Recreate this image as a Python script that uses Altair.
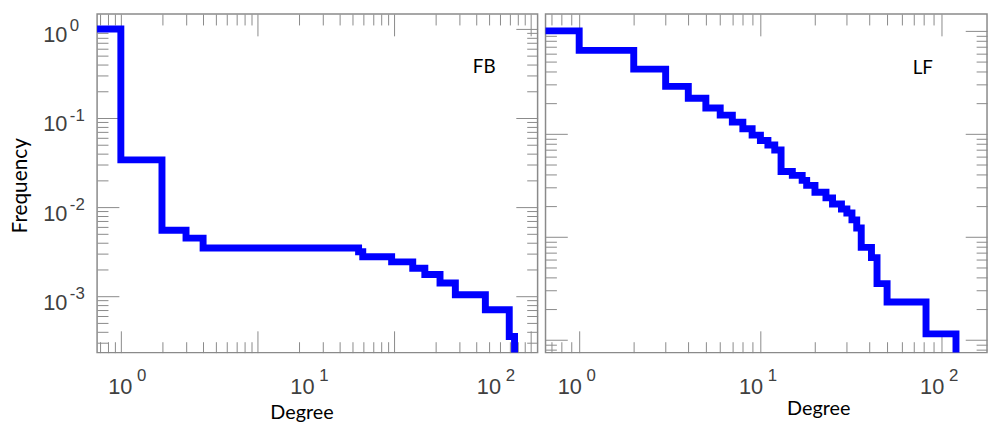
import json
import altair as alt
import pandas as pd

# ---------------- data ----------------
# FB panel: cumulative degree distribution (step-after)
fb_degree = [0.5, 1, 2, 3, 4, 55, 59, 96, 137, 168, 217, 281, 466, 697, 762]
fb_freq = [1.0, 0.0339, 0.00551, 0.00449, 0.00348, 0.00316, 0.00278, 0.00243,
           0.00206, 0.00175, 0.00141, 0.00104, 0.000704, 0.000353, 0.0001]

# LF panel
lf_degree = [0.5, 1, 2, 3, 4, 5, 6, 7, 8, 9, 10, 11, 12, 13, 15, 17, 18, 20,
             23, 25, 28, 30, 32, 34, 36, 41, 44, 50, 82, 120]
lf_freq = [1.0, 0.647, 0.425, 0.289, 0.222, 0.178, 0.152, 0.130, 0.112, 0.0972,
           0.0862, 0.0779, 0.0697, 0.0431, 0.0395, 0.0353, 0.0316, 0.0271,
           0.0239, 0.0208, 0.0186, 0.0170, 0.0146, 0.0122, 0.00789, 0.00628,
           0.00351, 0.00233, 0.00114, 0.0003]

# axis domains
fb_xdomain = [0.67, 1124]
fb_ydomain = [2.33e-4, 1.468]
lf_xdomain = [0.652, 178]
lf_ydomain = [7.5e-4, 1.457]

# tick-label positions / texts (as they appear in the reference)
fb_xlabel_at = [1.16, 25, 580]
lf_xlabel_at = [1, 10, 100]
xlabel_exp = ["0", "1", "2"]
ylabel_at = [1, 0.1, 0.01, 0.001]
ylabel_exp = ["0", "-1", "-2", "-3"]

panel_tags = ["FB", "LF"]
fb_tag_pos = [457, 0.369]
lf_tag_pos = [78.7, 0.44]

# ---------------- style ----------------
W_L, W_R, H = 445, 446, 342
TICK = "#8a8a8a"
LAB = "#404040"
NUM_FONT = "Liberation Sans"
TXT_FONT = "Lato"
MAJ, MIN = 22, 11


def majors(lo, hi):
    return [10.0 ** e for e in range(-6, 6) if lo <= 10.0 ** e <= hi]


def minors(lo, hi):
    out = []
    for e in range(-6, 6):
        for m in range(2, 10):
            v = m * 10.0 ** e
            if lo <= v <= hi:
                out.append(v)
    return out


def tick_axis(orient, values, size):
    return alt.Axis(orient=orient, values=values, tickSize=size, offset=-size,
                    labels=False, domain=False, grid=False, title=None,
                    tickColor=TICK, tickWidth=1)


def lookup_expr(vals, texts):
    return f"{json.dumps(texts)}[indexof({json.dumps(vals)}, datum.value)]"


def panel(deg, freq, xdom, ydom, width, xlab_at, tag, tag_pos,
          title_x, title_y, with_ylabels):
    df = pd.DataFrame({"Degree": deg, "Frequency": freq})
    xs = alt.Scale(type="log", domain=xdom, nice=False)
    ys = alt.Scale(type="log", domain=ydom, nice=False)
    xmaj, xmin = majors(*xdom), minors(*xdom)
    ymaj, ymin = majors(*ydom), minors(*ydom)

    def enc(xa, ya):
        return dict(x=alt.X("Degree:Q", scale=xs, axis=xa),
                    y=alt.Y("Frequency:Q", scale=ys, axis=ya))

    base = alt.Chart(df)
    # invisible carriers for the extra axes: only in-domain points, clipped
    carrier = base.transform_filter(
        alt.FieldRangePredicate(field="Degree", range=xdom)
    ).transform_filter(
        alt.FieldRangePredicate(field="Frequency", range=ydom)
    )

    line = base.mark_line(interpolate="step-after", color="#0000ff",
                          strokeWidth=7, clip=True, strokeJoin="miter").encode(
        **enc(tick_axis("bottom", xmaj, MAJ), tick_axis("left", ymaj, MAJ)))
    inv = dict(opacity=0, clip=True, size=1)
    l2 = carrier.mark_point(**inv).encode(
        **enc(tick_axis("bottom", xmin, MIN), tick_axis("left", ymin, MIN)))
    l3 = carrier.mark_point(**inv).encode(
        **enc(tick_axis("top", xmaj, MAJ), tick_axis("right", ymaj, MAJ)))
    l4 = carrier.mark_point(**inv).encode(
        **enc(tick_axis("top", xmin, MIN), tick_axis("right", ymin, MIN)))

    x10 = alt.Axis(orient="bottom", values=xlab_at, ticks=False, tickSize=0,
                   domain=False, grid=False, labelExpr="'10'", labelFont=NUM_FONT,
                   labelFontSize=22, labelColor=LAB, labelBaseline="alphabetic",
                   labelPadding=41, labelAlign="center", labelOffset=-10,
                   labelFlush=False, labelOverlap=False, labelBound=False,
                   title="Degree", titleFont=TXT_FONT, titleFontSize=20,
                   titleFontWeight="normal", titleColor="black",
                   titleX=title_x, titleY=title_y, titleAlign="center",
                   titleBaseline="alphabetic")
    xexp = alt.Axis(orient="bottom", values=xlab_at, ticks=False, tickSize=0,
                    domain=False, grid=False,
                    labelExpr=lookup_expr(xlab_at, xlabel_exp),
                    labelFont=NUM_FONT, labelFontSize=17, labelColor=LAB,
                    labelBaseline="alphabetic", labelPadding=28,
                    labelAlign="left", labelOffset=7, labelFlush=False,
                    labelOverlap=False, labelBound=False, title=None)
    if with_ylabels:
        y10 = alt.Axis(orient="left", values=ylabel_at, ticks=False, tickSize=0,
                       domain=False, grid=False, labelExpr="'10'",
                       labelFont=NUM_FONT, labelFontSize=22, labelColor=LAB,
                       labelBaseline="alphabetic", labelAlign="left",
                       labelPadding=55, labelOffset=13, labelFlush=False,
                       labelOverlap=False, labelBound=False,
                       title="Frequency", titleFont=TXT_FONT, titleFontSize=21,
                       titleFontWeight="normal", titleColor="black",
                       titleAngle=270, titleX=-71, titleY=173,
                       titleAlign="center", titleBaseline="alphabetic")
        yexp = alt.Axis(orient="left", values=ylabel_at, ticks=False, tickSize=0,
                        domain=False, grid=False,
                        labelExpr=lookup_expr(ylabel_at, ylabel_exp),
                        labelFont=NUM_FONT, labelFontSize=17, labelColor=LAB,
                        labelBaseline="alphabetic", labelAlign="left",
                        labelPadding=28, labelOffset=2, labelFlush=False,
                        labelOverlap=False, labelBound=False, title=None)
    else:
        y10 = None
        yexp = None
    l5 = carrier.mark_point(**inv).encode(**enc(x10, y10))
    l6 = carrier.mark_point(**inv).encode(**enc(xexp, yexp))

    tag_df = pd.DataFrame({"Degree": [tag_pos[0]], "Frequency": [tag_pos[1]],
                           "tag": [tag]})
    tag_layer = alt.Chart(tag_df).mark_text(font=TXT_FONT, fontSize=19,
                                            color="black").encode(
        x=alt.X("Degree:Q", scale=xs, axis=None),
        y=alt.Y("Frequency:Q", scale=ys, axis=None),
        text="tag:N")

    return alt.layer(line, l2, l3, l4, l5, l6, tag_layer).resolve_axis(
        x="independent", y="independent").properties(width=width, height=H)


left = panel(fb_degree, fb_freq, fb_xdomain, fb_ydomain, W_L, fb_xlabel_at,
             panel_tags[0], fb_tag_pos, 206.5, 67, True)
right = panel(lf_degree, lf_freq, lf_xdomain, lf_ydomain, W_R, lf_xlabel_at,
              panel_tags[1], lf_tag_pos, 275.5, 63, False)

chart = alt.hconcat(left, right, spacing=4).properties(
    padding={"left": 1, "top": 2, "right": 0, "bottom": 0}
).configure_view(stroke=TICK, strokeWidth=1.5)

chart.save("out.html", embed_options={"renderer": "svg", "actions": False})
